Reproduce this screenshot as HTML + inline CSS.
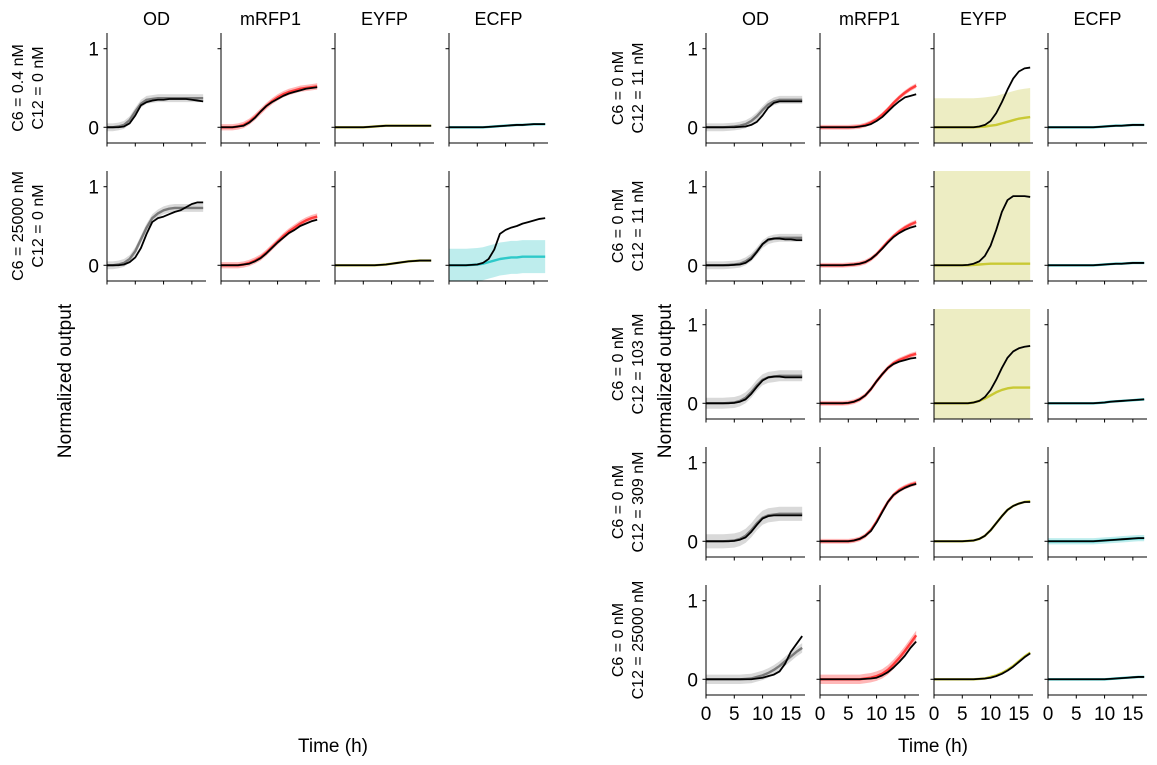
<!DOCTYPE html>
<html><head><meta charset="utf-8"><style>
body{margin:0;background:#fff}
svg{display:block;font-family:"Liberation Sans","DejaVu Sans",sans-serif}
</style></head><body>
<svg id="fig" width="1157" height="765" viewBox="0 0 1157 765" xmlns="http://www.w3.org/2000/svg"></svg>
<script>
const times=[0,1,2,3,4,5,6,7,8,9,10,11,12,13,14,15,16,17];
const xTicks=[0,5,10,15];
const yTicks=[0,1];
const channels=["OD","mRFP1","EYFP","ECFP"];
const leftRows=[["C6 = 0.4 nM","C12 = 0 nM"],["C6 = 25000 nM","C12 = 0 nM"]];
const rightRows=[["C6 = 0 nM","C12 = 11 nM"],["C6 = 0 nM","C12 = 11 nM"],["C6 = 0 nM","C12 = 103 nM"],["C6 = 0 nM","C12 = 309 nM"],["C6 = 0 nM","C12 = 25000 nM"]];

// ---- left block, row 1 ----
const L1_OD_model=[0,0,0.01,0.03,0.09,0.2,0.3,0.35,0.36,0.37,0.37,0.37,0.37,0.37,0.37,0.37,0.37,0.37];
const L1_OD_data=[0,0,0,0.01,0.05,0.15,0.28,0.32,0.34,0.35,0.35,0.36,0.36,0.36,0.36,0.35,0.34,0.33];
const L1_RFP_model=[0,0,0,0.01,0.03,0.07,0.13,0.2,0.27,0.33,0.38,0.42,0.45,0.47,0.49,0.5,0.51,0.52];
const L1_RFP_data=[0,0,0,0.01,0.02,0.06,0.12,0.2,0.27,0.32,0.36,0.4,0.43,0.45,0.47,0.49,0.5,0.51];
const L1_YFP_model=[0,0,0,0,0,0,0.005,0.01,0.015,0.02,0.02,0.02,0.02,0.02,0.02,0.02,0.02,0.02];
const L1_YFP_data=[0,0,0,0,0,0,0.005,0.01,0.015,0.02,0.02,0.02,0.02,0.02,0.02,0.02,0.02,0.02];
const L1_CFP_model=[0,0,0,0,0,0,0,0.005,0.01,0.015,0.02,0.025,0.03,0.03,0.035,0.04,0.04,0.04];
const L1_CFP_data=[0,0,0,0,0,0,0,0.005,0.01,0.015,0.02,0.025,0.03,0.03,0.035,0.04,0.04,0.04];
// ---- left block, row 2 ----
const L2_OD_model=[0,0,0.01,0.03,0.08,0.18,0.33,0.48,0.6,0.66,0.7,0.72,0.73,0.73,0.73,0.73,0.73,0.73];
const L2_OD_data=[0,0,0,0.01,0.04,0.1,0.22,0.4,0.55,0.6,0.62,0.65,0.68,0.7,0.74,0.78,0.8,0.8];
const L2_RFP_model=[0,0,0,0,0.01,0.03,0.06,0.1,0.16,0.23,0.3,0.37,0.43,0.48,0.53,0.57,0.6,0.62];
const L2_RFP_data=[0,0,0,0,0.01,0.02,0.05,0.09,0.15,0.22,0.29,0.35,0.41,0.45,0.5,0.53,0.56,0.58];
const L2_YFP_model=[0,0,0,0,0,0,0,0,0.005,0.01,0.02,0.03,0.04,0.05,0.055,0.06,0.06,0.06];
const L2_YFP_data=[0,0,0,0,0,0,0,0,0.005,0.01,0.02,0.03,0.04,0.05,0.055,0.06,0.06,0.06];
const L2_CFP_model=[0,0,0,0,0.005,0.01,0.02,0.04,0.06,0.08,0.09,0.1,0.1,0.11,0.11,0.11,0.11,0.11];
const L2_CFP_data=[0,0,0,0,0.005,0.01,0.03,0.08,0.2,0.4,0.45,0.48,0.5,0.53,0.55,0.57,0.59,0.6];
// ---- right block, row 1 ----
const R1_OD_model=[0,0,0,0,0.005,0.01,0.02,0.04,0.08,0.14,0.22,0.29,0.33,0.35,0.35,0.35,0.35,0.35];
const R1_OD_data=[0,0,0,0,0,0,0.005,0.01,0.03,0.07,0.15,0.25,0.31,0.33,0.33,0.33,0.33,0.33];
const R1_RFP_model=[0,0,0,0,0,0,0.005,0.01,0.03,0.06,0.1,0.16,0.23,0.31,0.38,0.44,0.49,0.53];
const R1_RFP_data=[0,0,0,0,0,0,0,0.01,0.02,0.04,0.08,0.13,0.2,0.27,0.33,0.38,0.4,0.42];
const R1_YFP_model=[0,0,0,0,0,0,0,0,0.005,0.01,0.02,0.03,0.05,0.07,0.09,0.11,0.12,0.13];
const R1_YFP_data=[0,0,0,0,0,0,0,0,0.01,0.03,0.08,0.18,0.32,0.48,0.62,0.71,0.75,0.76];
const R1_CFP_model=[0,0,0,0,0,0,0,0,0,0.005,0.01,0.015,0.02,0.02,0.025,0.03,0.03,0.03];
const R1_CFP_data=[0,0,0,0,0,0,0,0,0,0.005,0.01,0.015,0.02,0.02,0.025,0.03,0.03,0.03];
// ---- right block, row 2 ----
const R2_OD_model=[0,0,0,0,0.005,0.01,0.02,0.05,0.1,0.18,0.27,0.32,0.34,0.35,0.35,0.35,0.35,0.35];
const R2_OD_data=[0,0,0,0,0,0.005,0.01,0.03,0.08,0.17,0.27,0.33,0.34,0.34,0.33,0.33,0.32,0.32];
const R2_RFP_model=[0,0,0,0,0,0.005,0.01,0.02,0.04,0.08,0.14,0.22,0.3,0.37,0.43,0.48,0.52,0.55];
const R2_RFP_data=[0,0,0,0,0,0.005,0.01,0.02,0.04,0.08,0.14,0.21,0.29,0.36,0.41,0.45,0.48,0.5];
const R2_YFP_model=[0,0,0,0,0,0,0,0.005,0.01,0.015,0.02,0.02,0.02,0.02,0.02,0.02,0.02,0.02];
const R2_YFP_data=[0,0,0,0,0,0,0.005,0.02,0.05,0.12,0.25,0.45,0.68,0.83,0.88,0.88,0.88,0.87];
const R2_CFP_model=[0,0,0,0,0,0,0,0,0,0.005,0.01,0.015,0.02,0.02,0.025,0.03,0.03,0.03];
const R2_CFP_data=[0,0,0,0,0,0,0,0,0,0.005,0.01,0.015,0.02,0.02,0.025,0.03,0.03,0.03];
// ---- right block, row 3 ----
const R3_OD_model=[0,0,0,0,0.005,0.01,0.03,0.07,0.14,0.23,0.3,0.33,0.34,0.35,0.35,0.35,0.35,0.35];
const R3_OD_data=[0,0,0,0,0,0.005,0.02,0.05,0.12,0.21,0.29,0.33,0.34,0.34,0.33,0.33,0.33,0.33];
const R3_RFP_model=[0,0,0,0,0,0.005,0.02,0.05,0.1,0.18,0.28,0.37,0.45,0.51,0.55,0.58,0.61,0.63];
const R3_RFP_data=[0,0,0,0,0,0.005,0.02,0.05,0.1,0.18,0.28,0.37,0.45,0.5,0.53,0.55,0.57,0.58];
const R3_YFP_model=[0,0,0,0,0,0,0,0.01,0.03,0.06,0.1,0.14,0.17,0.19,0.2,0.2,0.2,0.2];
const R3_YFP_data=[0,0,0,0,0,0,0,0.01,0.03,0.08,0.17,0.3,0.45,0.58,0.66,0.7,0.72,0.73];
const R3_CFP_model=[0,0,0,0,0,0,0,0,0,0.005,0.01,0.02,0.025,0.03,0.035,0.04,0.045,0.05];
const R3_CFP_data=[0,0,0,0,0,0,0,0,0,0.005,0.01,0.02,0.025,0.03,0.035,0.04,0.045,0.05];
// ---- right block, row 4 ----
const R4_OD_model=[0,0,0,0,0.005,0.01,0.03,0.07,0.14,0.23,0.3,0.33,0.34,0.35,0.35,0.35,0.35,0.35];
const R4_OD_data=[0,0,0,0,0,0.005,0.02,0.05,0.12,0.21,0.29,0.32,0.33,0.33,0.33,0.33,0.33,0.33];
const R4_RFP_model=[0,0,0,0,0,0,0.01,0.03,0.07,0.14,0.25,0.38,0.5,0.59,0.65,0.69,0.72,0.74];
const R4_RFP_data=[0,0,0,0,0,0,0.01,0.03,0.07,0.13,0.24,0.37,0.5,0.59,0.64,0.68,0.71,0.73];
const R4_YFP_model=[0,0,0,0,0,0,0.005,0.01,0.03,0.07,0.14,0.23,0.32,0.4,0.45,0.48,0.5,0.51];
const R4_YFP_data=[0,0,0,0,0,0,0.005,0.01,0.03,0.07,0.14,0.23,0.32,0.4,0.45,0.48,0.5,0.5];
const R4_CFP_model=[0,0,0,0,0,0,0,0,0,0.005,0.01,0.015,0.02,0.025,0.03,0.035,0.04,0.04];
const R4_CFP_data=[0,0,0,0,0,0,0,0,0,0.005,0.01,0.015,0.02,0.025,0.03,0.035,0.04,0.04];
// ---- right block, row 5 ----
const R5_OD_model=[0,0,0,0,0,0,0,0.005,0.01,0.03,0.05,0.08,0.12,0.17,0.23,0.29,0.35,0.4];
const R5_OD_data=[0,0,0,0,0,0,0,0,0,0.01,0.02,0.04,0.06,0.1,0.2,0.35,0.45,0.55];
const R5_RFP_model=[0,0,0,0,0,0,0,0,0.01,0.02,0.04,0.07,0.12,0.19,0.27,0.36,0.46,0.56];
const R5_RFP_data=[0,0,0,0,0,0,0,0,0.005,0.01,0.02,0.05,0.09,0.15,0.22,0.3,0.4,0.48];
const R5_YFP_model=[0,0,0,0,0,0,0,0,0.005,0.01,0.03,0.05,0.08,0.12,0.17,0.23,0.29,0.34];
const R5_YFP_data=[0,0,0,0,0,0,0,0,0.005,0.01,0.02,0.04,0.07,0.11,0.16,0.22,0.28,0.33];
const R5_CFP_model=[0,0,0,0,0,0,0,0,0,0,0,0.005,0.01,0.015,0.02,0.025,0.03,0.03];
const R5_CFP_data=[0,0,0,0,0,0,0,0,0,0,0,0.005,0.01,0.015,0.02,0.025,0.03,0.03];

// band half-widths per panel (OD, mRFP1, EYFP, ECFP)
const L1_bands=[0.05,0.04,0.01,0.01];
const L2_bands=[0.05,0.04,0.01,0.21];
const R1_bands=[0.05,0.03,0.37,0.01];
const R2_bands=[0.05,0.03,2.0,0.01];
const R3_bands=[0.07,0.03,2.0,0.01];
const R4_bands=[0.09,0.03,0.01,0.04];
const R5_bands=[0.06,0.06,0.01,0.01];

const leftModels=[[L1_OD_model,L1_RFP_model,L1_YFP_model,L1_CFP_model],[L2_OD_model,L2_RFP_model,L2_YFP_model,L2_CFP_model]];
const leftData=[[L1_OD_data,L1_RFP_data,L1_YFP_data,L1_CFP_data],[L2_OD_data,L2_RFP_data,L2_YFP_data,L2_CFP_data]];
const leftBands=[L1_bands,L2_bands];
const rightModels=[[R1_OD_model,R1_RFP_model,R1_YFP_model,R1_CFP_model],[R2_OD_model,R2_RFP_model,R2_YFP_model,R2_CFP_model],[R3_OD_model,R3_RFP_model,R3_YFP_model,R3_CFP_model],[R4_OD_model,R4_RFP_model,R4_YFP_model,R4_CFP_model],[R5_OD_model,R5_RFP_model,R5_YFP_model,R5_CFP_model]];
const rightData=[[R1_OD_data,R1_RFP_data,R1_YFP_data,R1_CFP_data],[R2_OD_data,R2_RFP_data,R2_YFP_data,R2_CFP_data],[R3_OD_data,R3_RFP_data,R3_YFP_data,R3_CFP_data],[R4_OD_data,R4_RFP_data,R4_YFP_data,R4_CFP_data],[R5_OD_data,R5_RFP_data,R5_YFP_data,R5_CFP_data]];
const rightBands=[R1_bands,R2_bands,R3_bands,R4_bands,R5_bands];

const lineColors=["#7a7a7a","#ff3b3b","#c9c934","#2ec9c9"];
const bandColors=["#aaaaaa","#ff7070","#d2d26a","#5cd2d2"];
const bandOpac=[0.45,0.5,0.4,0.4];
const NS="http://www.w3.org/2000/svg";
const svg=document.getElementById("fig");
const XMAX=17.5,YMIN=-0.2,YMAX=1.2,W=99,H=110;
let clipId=0;
function mk(tag,attrs,parent){const e=document.createElementNS(NS,tag);for(const k in attrs)e.setAttribute(k,attrs[k]);(parent||svg).appendChild(e);return e;}
function txt(s,attrs,parent){const e=mk("text",attrs,parent);e.textContent=s;return e;}

function panel(x0,y0,model,data,band,ci,showY,showXLabels,name){
  const sx=t=>x0+t/XMAX*W, sy=v=>y0+(YMAX-v)/(YMAX-YMIN)*H;
  const g=mk("g",{});
  
  
  const id="c"+(clipId++);
  const cp=mk("clipPath",{id:id},g);mk("rect",{x:x0,y:y0,width:W,height:H},cp);
  const cg=mk("g",{"clip-path":"url(#"+id+")"},g);
  const up=times.map((t,i)=>sx(t)+","+sy(model[i]+band)).join(" ");
  const dn=times.slice().reverse().map((t,j)=>{const i=times.length-1-j;return sx(t)+","+sy(model[i]-band);}).join(" ");
  const p=mk("polygon",{points:up+" "+dn,fill:bandColors[ci],"fill-opacity":bandOpac[ci]},cg);
  
  
  const ml=mk("polyline",{points:times.map((t,i)=>sx(t)+","+sy(model[i])).join(" "),fill:"none",stroke:lineColors[ci],"stroke-width":2.4,"stroke-linejoin":"round"},cg);
  
  
  const dl=mk("polyline",{points:times.map((t,i)=>sx(t)+","+sy(data[i])).join(" "),fill:"none",stroke:"#000","stroke-width":1.8,"stroke-linejoin":"round"},cg);
  
  
  // spines
  mk("line",{x1:x0,y1:y0,x2:x0,y2:y0+H,stroke:"#000","stroke-width":1},g);
  mk("line",{x1:x0,y1:y0+H,x2:x0+W,y2:y0+H,stroke:"#000","stroke-width":1},g);
  yTicks.forEach(v=>{mk("line",{x1:x0-3.5,y1:sy(v),x2:x0,y2:sy(v),stroke:"#000"},g);
    if(showY){const l=txt(String(v),{x:x0-8,y:sy(v)+7,"font-size":19,"text-anchor":"end"},g);
      }});
  xTicks.forEach(v=>{mk("line",{x1:sx(v),y1:y0+H,x2:sx(v),y2:y0+H+3.5,stroke:"#000"},g);
    if(showXLabels){const l=txt(String(v),{x:sx(v),y:y0+H+25,"font-size":19,"text-anchor":"middle"},g);
      }});
}

function block(xs,rows,models,datas,bands,labelX,prefix){
  const ys=[33,171,309,447,585];
  channels.forEach((c,j)=>{const t=txt(c,{x:xs[j]+W/2,y:25,"font-size":18,"text-anchor":"middle"});
    });
  rows.forEach((r,i)=>{
    const cy=ys[i]+H/2;
    const t=mk("text",{transform:`translate(${labelX},${cy}) rotate(-90)`,"font-size":16,"text-anchor":"middle"});
    
    const a=mk("tspan",{x:0,y:0},t);a.textContent=r[0];
    const b=mk("tspan",{x:0,y:20},t);b.textContent=r[1];
    channels.forEach((c,j)=>panel(xs[j],ys[i],models[i][j],datas[i][j],bands[i][j],j,j===0,prefix==="right"&&i===rows.length-1,prefix+'-panel-r'+(i+1)+'-'+c.toLowerCase()));
  });
}
block([107,221,335,449],leftRows,leftModels,leftData,leftBands,23,"left");
block([706,820,934,1048],rightRows,rightModels,rightData,rightBands,623,"right");

[[71,"left"],[671,"right"]].forEach(([x,p])=>{const t=txt("Normalized output",{transform:`translate(${x},381) rotate(-90)`,"font-size":19,"text-anchor":"middle"});
  });
[[333,"left"],[933,"right"]].forEach(([x,p])=>{const t=txt("Time (h)",{x:x,y:752,"font-size":19,"text-anchor":"middle"});
  });
</script>
</body></html>
